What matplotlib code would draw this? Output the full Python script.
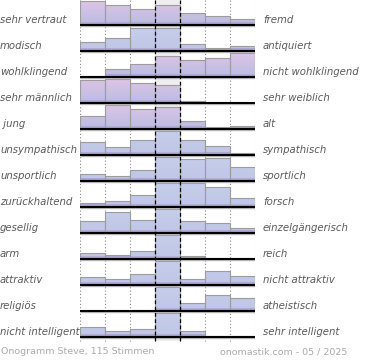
import numpy as np
import matplotlib
matplotlib.use("agg")
import matplotlib.pyplot as plt
import matplotlib.transforms as mtransforms
from matplotlib.colors import to_rgb

# left / right poles of each scale
left_labels = ["sehr vertraut", "modisch", "wohlklingend", "sehr männlich", " jung",
               "unsympathisch", "unsportlich", "zurückhaltend", "gesellig", "arm",
               "attraktiv", "religiös", "nicht intelligent"]
right_labels = ["fremd", "antiquiert", "nicht wohlklingend", "sehr weiblich", "alt",
                "sympathisch", "sportlich", "forsch", "einzelgängerisch", "reich",
                "nicht attraktiv", "atheistisch", "sehr intelligent"]

# bar heights per scale (7 steps, max = 24)
votes = [
    [24, 19.7, 16.3, 19.7, 12.3, 8.7, 5.7],
    [9.3, 13.3, 23.3, 23.3, 6.7, 2.7, 5.3],
    [1, 8.3, 13.3, 20.7, 16.7, 18.7, 24],
    [23.3, 24, 20, 17.7, 2, 0.3, 0],
    [13.3, 24, 19.7, 22.3, 7.7, 1.7, 3.3],
    [13.3, 8.3, 15.3, 24, 15.3, 9.3, 2],
    [7.3, 5, 11.3, 24, 22.3, 23.3, 14],
    [3.7, 5.7, 12.3, 24, 23.7, 20.3, 9],
    [12.3, 20.7, 13.3, 24, 12.3, 10.3, 5.3],
    [6, 4.3, 7.7, 24, 2.7, 1, 1],
    [7.7, 6.3, 11.3, 24, 6.3, 14.3, 9.3],
    [0, 0, 1.3, 24, 7.7, 15.7, 13.3],
    [9.7, 6.3, 8.3, 24, 6.3, 1, 0.7],
]
pink_rows = [0, 2, 3, 4]

footer_left = "Onogramm Steve, 115 Stimmen"
footer_right = "onomastik.com - 05 / 2025"

W, H = 370, 360
fig = plt.figure(figsize=(W / 100, H / 100), dpi=100)
ax = fig.add_axes([79.5 / W, 1 - 345 / H, 175 / W, 345 / H])
ax.set_xlim(-0.5, 6.5)
ax.set_ylim(345, 0)
ax.set_axis_off()

row_h = 26
full = 24
cols = np.arange(7)

# grey background of the middle column
ax.axvspan(2.5, 3.5, ymin=(345 - 341) / 345, ymax=1, color="#eeeeee", zorder=0, lw=0)

# dotted grid
for xv in [-0.5, 0.5, 1.5, 4.5, 5.5, 6.5]:
    ax.vlines(xv, 0, 341, colors="#888888", linestyles=(0, (1, 2)), lw=0.8, zorder=1)


def gradient(top, mid, strip, n=48):
    top, mid, strip = np.array(to_rgb(top)), np.array(to_rgb(mid)), np.array(to_rgb(strip))
    t = np.linspace(0, 1, n)[:, None]
    g = mid + (top - mid) * t
    g[: int(n * 2.5 / full)] = strip
    return g[:, None, :]


blue_grad = gradient("#c6ceeb", "#c0c6e6", "#a99ecd")
pink_grad = gradient("#dec4e6", "#b9bde2", "#a99ecd")

for r, vals in enumerate(votes):
    base = 25 + row_h * r
    grad = pink_grad if r in pink_rows else blue_grad
    bars = ax.bar(cols, [-v for v in vals], bottom=base, width=1.0,
                  facecolor="none", edgecolor="#9c9c9c", lw=0.8, zorder=3)
    for c, p in zip(cols, bars.patches):
        if vals[c] <= 0:
            continue
        im = ax.imshow(grad, extent=(c - 0.5, c + 0.5, base, base - full),
                       origin="lower", aspect="auto", zorder=2, interpolation="bilinear")
        im.set_clip_path(p)
    ax.hlines(base + 1.3, -0.5, 6.6, colors="#bbbbbb", lw=1.0, zorder=4)
    ax.hlines(base, -0.5, 6.5, colors="black", lw=1.5, zorder=5)

# dashed middle column borders
for xv in [2.5, 3.5]:
    ax.vlines(xv, 0, 341, colors="black", linestyles=(0, (3, 2)), lw=0.9, zorder=6)

trans = mtransforms.blended_transform_factory(fig.transFigure, ax.transData)
for r in range(len(votes)):
    y = 25 + row_h * r - 5
    ax.text(0 / W, y, left_labels[r], transform=trans, ha="left", va="center",
            fontsize=7.3, style="italic", color="#5a5a5a")
    ax.text(263 / W, y, right_labels[r], transform=trans, ha="left", va="center",
            fontsize=7.3, style="italic", color="#5a5a5a")

fig.text(1 / W, 1 - 352 / H, footer_left, ha="left", va="center", fontsize=6.8, color="#aaaaaa")
fig.text(347 / W, 1 - 352 / H, footer_right, ha="right", va="center", fontsize=6.8, color="#aaaaaa")

fig.savefig("out.png", dpi=100)
